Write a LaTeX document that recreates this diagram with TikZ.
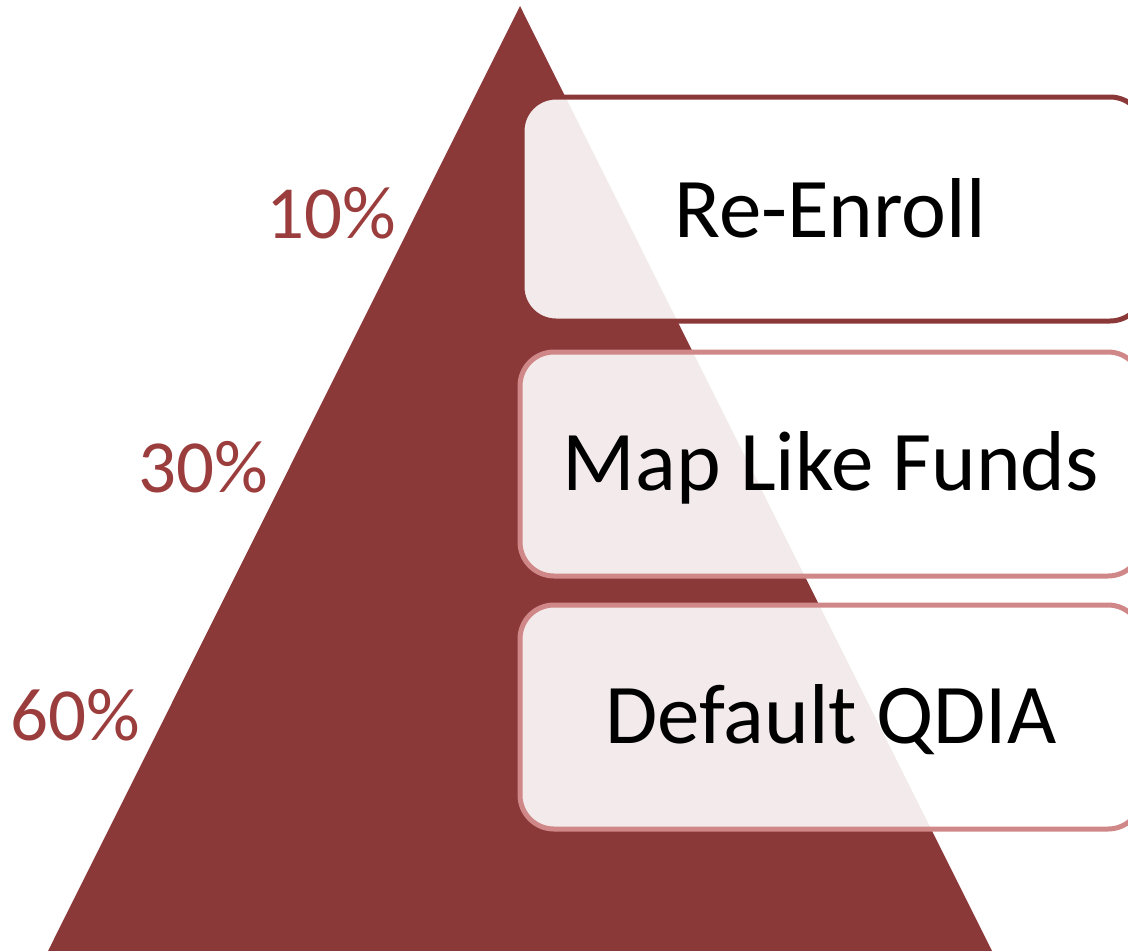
\documentclass[tikz,border=0pt]{standalone}
\usepackage{fontspec}
\setmainfont{Carlito}
\definecolor{tri}{HTML}{8B3838}
\definecolor{pct}{HTML}{9B3D3D}
\definecolor{pinkline}{HTML}{D08787}
\tikzset{
  stagebox/.style={draw, line width=5pt, fill=white, fill opacity=0.9, text opacity=1,
    rounded corners=34pt, minimum width=622pt, minimum height=224pt, inner sep=0pt},
  boxtext/.style={anchor=base, font=\fontsize{85}{92}\selectfont, text=black, inner sep=0pt},
  pcttext/.style={anchor=base, font=\fontsize{75}{82}\selectfont, text=pct, inner sep=0pt}
}
\begin{document}
\begin{tikzpicture}[x=1pt,y=-1pt]
\useasboundingbox (0,0) rectangle (1128,951);
\clip (0,0) rectangle (1128,951);
\fill[tri] (520,6) coordinate (apex) -- (48,951) coordinate (bl) -- (992,951) coordinate (br) -- cycle;
\node[stagebox, draw=tri] (b1) at (833,209) {};
\node[stagebox, draw=pinkline] (b2) at (831,464) {};
\node[stagebox, draw=pinkline] (b3) at (831,717) {};
\node[boxtext] (t1) at (830,237) {Re-Enroll};
\node[boxtext] (t2) at (831,490) {Map Like Funds};
\node[boxtext] (t3) at (831,743) {Default QDIA};
\node[pcttext] (p1) at (331,238) {10\%};
\node[pcttext] (p2) at (203,492) {30\%};
\node[pcttext] (p3) at (75,740) {60\%};
\end{tikzpicture}
\end{document}
